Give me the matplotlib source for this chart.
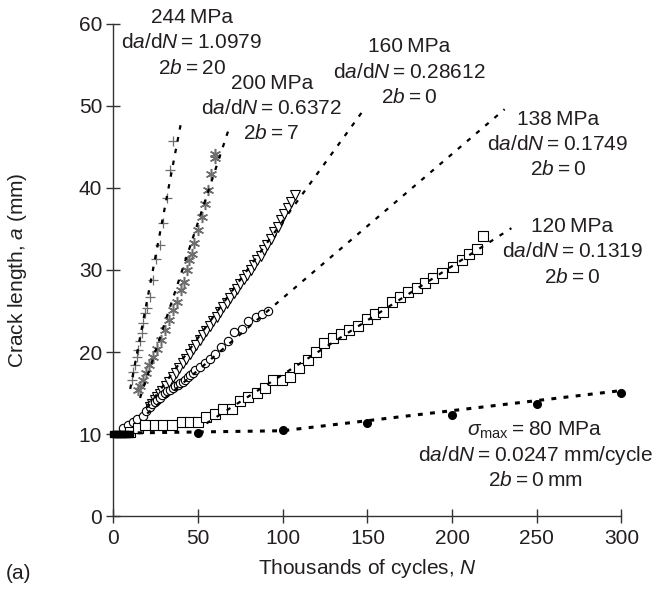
import matplotlib
matplotlib.use("Agg")
import matplotlib.pyplot as plt

plt.rcParams['font.family'] = ['Liberation Sans', 'DejaVu Sans']
plt.rcParams['mathtext.fontset'] = 'custom'
plt.rcParams['mathtext.rm'] = 'Liberation Sans'
plt.rcParams['mathtext.it'] = 'Liberation Sans:italic'
plt.rcParams['mathtext.bf'] = 'Liberation Sans:bold'
plt.rcParams['font.size'] = 15

# 244 MPa (+)
n244 = [10.9, 11.8, 12.8, 13.8, 14.8, 15.8, 16.8, 17.7, 18.7, 19.7, 21.7, 23.3, 25.2, 27.6, 29.5, 31.9, 33.5, 35.4]
a244 = [16.6, 17.6, 18.4, 19.4, 20.2, 21.3, 22.3, 23.5, 24.7, 25.4, 26.7, 28.8, 31.3, 33.0, 35.7, 38.8, 42.2, 45.7]
fit244_n = [10, 40]
fit244_a = [15.5, 48.0]

# 200 MPa (asterisk)
n200 = [14.8, 15.8, 17.7, 19.3, 21.3, 23.6, 25.6, 28.0, 30.5, 33.1, 35.4, 37.4, 40.0, 41.9, 43.7, 44.9,
        46.3, 47.8, 50.2, 52.2, 54.1, 56.1, 57.7, 60.0, 60.3]
a200 = [15.4, 15.8, 16.6, 17.4, 18.4, 19.4, 20.4, 21.5, 22.7, 23.9, 25.1, 26.1, 27.6, 28.5, 30.0, 31.2,
        32.0, 33.3, 34.9, 36.5, 38.1, 39.8, 41.7, 43.6, 44.2]
fit200_n = [15.8, 69]
fit200_a = [14.4, 47.7]

# 160 MPa (triangles)
n160 = [21.5, 23, 24.5, 26, 27.5, 29, 31, 33, 35, 37, 39, 41, 43, 45, 47, 49, 51, 53, 55, 57, 59, 61,
        63, 65, 67, 69, 71, 73, 75, 77, 79, 81, 83, 85, 87, 89, 91, 93, 95, 97, 99, 101, 103, 105, 107]
a160 = [13.3, 13.7, 14.1, 14.5, 14.9, 15.3, 15.9, 16.4, 17.0, 17.5, 18.1, 18.7, 19.2, 19.8, 20.4, 20.9,
        21.5, 22.1, 22.6, 23.2, 23.8, 24.3, 24.9, 25.5, 26.0, 26.6, 27.2, 27.7, 28.3, 28.9, 29.4, 30.0,
        30.6, 31.2, 31.7, 32.4, 33.1, 33.8, 34.6, 35.3, 36.1, 36.8, 37.6, 38.3, 39.1]
fit160_n = [20, 147]
fit160_a = [13.2, 49.3]

# 138 MPa (circles)
n138 = [5.9, 8.9, 11.8, 14.2, 17.4, 19.5, 21.7, 23.0, 24.6, 26.0, 27.6, 29.0, 30.5, 32.0, 33.5, 35.0,
        36.4, 38.0, 39.4, 41.0, 42.3, 44.0, 45.3, 47.0, 48.2, 51.2, 54.1, 57.1, 60.0, 63.6, 67.5, 71.4,
        75.8, 79.7, 84.2, 87.6, 91.5]
a138 = [10.7, 11.1, 11.5, 11.8, 12.2, 12.8, 13.3, 13.6, 13.9, 14.1, 14.4, 14.7, 15.0, 15.2, 15.4, 15.6,
        15.8, 16.0, 16.2, 16.4, 16.6, 16.9, 17.2, 17.5, 17.8, 18.2, 18.6, 19.2, 19.8, 20.6, 21.4, 22.4,
        22.8, 23.8, 24.3, 24.6, 25.0]
fit138_n = [20, 231]
fit138_a = [12.5, 49.6]

# 120 MPa (squares)
n120 = [9.8, 14.8, 18.7, 24.6, 29.5, 34.5, 40.4, 45.3, 50.2, 54.7, 60.0, 64.9, 69.9, 74.8, 79.7, 84.6,
        89.6, 94.4, 99.4, 104.3, 109.8, 114.8, 119.7, 124.6, 129.5, 134.4, 139.3, 144.6, 149.6, 154.5,
        159.4, 164.3, 169.2, 174.1, 179.0, 184.0, 189.0, 194.0, 200.7, 205.7, 210.2, 214.5, 218.4]
a120 = [10.3, 10.7, 11.1, 11.1, 11.1, 11.1, 11.5, 11.5, 11.5, 12.1, 12.5, 13.0, 13.0, 14.0, 14.5, 15.0,
        15.6, 16.6, 16.6, 17.0, 18.0, 19.0, 20.0, 21.1, 21.7, 22.2, 22.7, 23.2, 24.0, 24.6,
        24.9, 26.1, 26.7, 27.3, 27.8, 28.4, 29.0, 29.6, 30.4, 31.2, 32.0, 32.5, 34.2]
fit120_n = [55, 235]
fit120_a = [11.3, 35.1]

# 80 MPa (filled circles) and start points
n80 = [50, 100, 150, 200, 250, 300]
a80 = [10.1, 10.5, 11.3, 12.3, 13.7, 15.0]
fit80_n = [0, 100, 300]
fit80_a = [10.1, 10.4, 15.3]
n_start = [0, 1, 2, 3, 4, 5, 6, 7, 8, 10]
a_start = [10, 10, 10, 10, 10, 10, 10, 10, 10, 10]

eq = "\u2009=\u2009"
rate = "d$\\mathit{a}$/d$\\mathit{N}$" + eq
gap = "2$\\mathit{b}$" + eq
labels = [
    (46.3, ["244\u2009MPa", rate + "1.0979", gap + "20"], 60.8),
    (93.5, ["200\u2009MPa", rate + "0.6372", gap + "7"], 52.8),
    (174.5, ["160\u2009MPa", rate + "0.28612", gap + "0"], 57.2),
    (262.5, ["138\u2009MPa", rate + "0.1749", gap + "0"], 48.4),
    (271.0, ["120\u2009MPa", rate + "0.1319", gap + "0"], 35.3),
    (249.0, ["$\\sigma_{\\mathrm{max}}$" + eq + "80 MPa", rate + "0.0247 mm/cycle", gap + "0\u2009mm"], 10.5),
]

txt = '#231f20'
fig = plt.figure(figsize=(6.56, 5.89), dpi=100)
ax = fig.add_axes([0.1727, 0.1239, 0.7747, 0.8354])

grey = '#6e6e6e'
ax.plot(n244, a244, '+', color=grey, ms=7, mew=0.9, clip_on=False, zorder=2)
ax.plot(n200, a200, ls='none', marker=(6, 2, 0), color=grey, ms=8, mew=1.1, clip_on=False, zorder=2)
ax.plot(n160, a160, 'v', mfc='white', mec='black', ms=6.5, mew=0.8, zorder=2)
ax.plot(n138, a138, 'o', mfc='white', mec='black', ms=6, mew=0.8, zorder=2)
ax.plot(n120, a120, 's', mfc='white', mec='black', ms=6.5, mew=0.8, zorder=2)
ax.plot(n80, a80, 'o', color='black', ms=5.5, clip_on=False, zorder=4)
ax.plot(n_start, a_start, 's', color='black', ms=4.5, clip_on=False, zorder=4)

dash = (0, (2.0, 3.4))
for fn, fa in [(fit244_n, fit244_a), (fit200_n, fit200_a), (fit160_n, fit160_a),
               (fit138_n, fit138_a), (fit120_n, fit120_a)]:
    ax.plot(fn, fa, color='black', lw=1.6, ls=dash, zorder=3)
ax.plot(fit80_n, fit80_a, color='black', lw=2.2, ls=(0, (1.6, 2.4)), zorder=3, clip_on=False)

for x, lines, y0 in labels:
    for i, s in enumerate(lines):
        ax.text(x, y0 - i * 3.1, s, ha='center', va='center', color=txt, fontsize=15)

ax.set_xlim(0, 300)
ax.set_ylim(0, 60)
ax.set_xticks([0, 50, 100, 150, 200, 250, 300])
ax.set_yticks([0, 10, 20, 30, 40, 50, 60])
for sp in ['top', 'right']:
    ax.spines[sp].set_visible(False)
for sp in ['left', 'bottom']:
    ax.spines[sp].set_linewidth(1.0)
    ax.spines[sp].set_color('#333333')
ax.tick_params(direction='inout', length=10, width=1.0, color='#333333', labelcolor=txt, labelsize=15)
ax.tick_params(axis='x', pad=4)
ax.tick_params(axis='y', pad=3)

fig.text(0.56, 0.035, "Thousands of cycles, $\\mathit{N}$", ha='center', va='center', color=txt, fontsize=15)
fig.text(0.027, 0.5413, "Crack length, $\\mathit{a}$ (mm)", ha='center', va='center', rotation=90,
         color=txt, fontsize=15)
fig.text(0.028, 0.027, "(a)", ha='center', va='center', color=txt, fontsize=15)

fig.savefig('out.png', dpi=100)
